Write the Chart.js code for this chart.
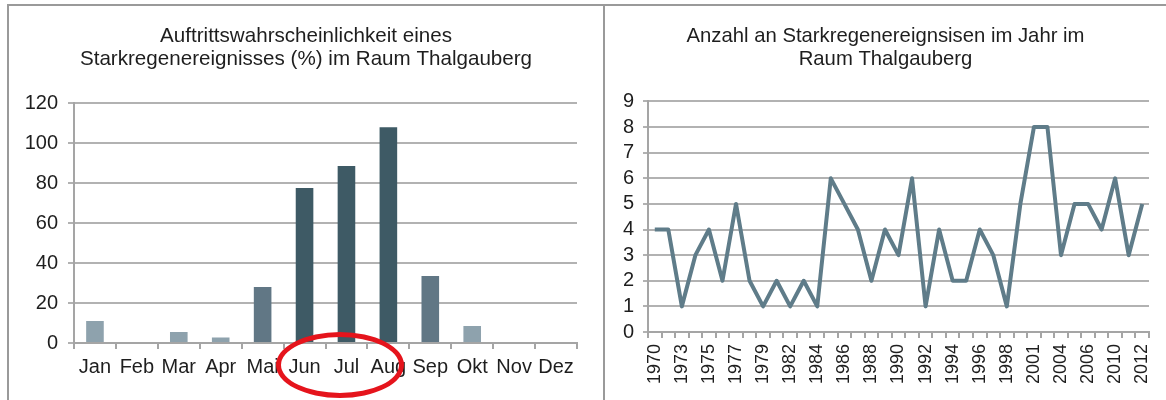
<!DOCTYPE html>
<html><head><meta charset="utf-8">
<script src="https://cdn.jsdelivr.net/npm/chart.js@4.4.1/dist/chart.umd.min.js"></script>
<style>
html,body{margin:0;padding:0;background:#fff;width:1166px;height:400px;overflow:hidden;}
body{position:relative;}
.ln{position:absolute;background:#9a9a9a;}
#w1{position:absolute;left:9px;top:7px;width:594px;height:393px;}
#w2{position:absolute;left:605px;top:7px;width:561px;height:393px;}
#ell{position:absolute;left:276px;top:332px;width:128px;height:66px;box-sizing:border-box;border:5px solid #e5141c;border-radius:50%;}
</style></head>
<body>
<div class="ln" style="left:7px;top:4px;width:1159px;height:2px"></div>
<div class="ln" style="left:7px;top:4px;width:2px;height:396px"></div>
<div class="ln" style="left:603px;top:4px;width:2px;height:396px"></div>
<div id="w1"><canvas id="c1" width="594" height="393"></canvas></div>
<div id="w2"><canvas id="c2" width="561" height="393"></canvas></div>
<div id="ell"></div>
<script>
// ---- data ----
const months = ['Jan','Feb','Mar','Apr','Mai','Jun','Jul','Aug','Sep','Okt','Nov','Dez'];
const probability = [11, 0, 5.5, 2.8, 28, 77.5, 88.5, 108, 33.5, 8.5, 0, 0];
const years = ['1970','1972','1973','1974','1975','1976','1977','1978','1979','1981','1982','1983','1984','1985','1986','1987','1988','1989','1990','1991','1992','1993','1994','1995','1996','1997','1998','2000','2001','2002','2004','2005','2006','2008','2010','2011','2012'];
const events = [4,4,1,3,4,2,5,2,1,2,1,2,1,6,5,4,2,4,3,6,1,4,2,2,4,3,1,5,8,8,3,5,5,4,6,3,5];
const title1 = ['Auftrittswahrscheinlichkeit eines','Starkregenereignisses (%) im Raum Thalgauberg'];
const title2 = ['Anzahl an Starkregenereignsisen im Jahr im','Raum Thalgauberg'];

// ---- styles ----
const LIGHT = '#8ea2ad', MED = '#617785', DARK = '#3e5a65', LINE = '#5f7c89';
const barColors = probability.map(v => v >= 50 ? DARK : (v >= 20 ? MED : LIGHT));
const GRID = '#b2b2b2', AXIS = '#a5a5a5', TXT = '#1e1e1e';
const FONT = "'Liberation Sans', Arial, sans-serif";
Chart.defaults.font.family = FONT;
Chart.defaults.color = TXT;

function spacer(w) {
  return { type: 'linear', position: 'right', display: true,
    grid: { display: false }, border: { display: false }, ticks: { display: false },
    afterFit: s => { s.width = w; } };
}

new Chart(document.getElementById('c1'), {
  type: 'bar',
  data: { labels: months, datasets: [{ data: probability, backgroundColor: barColors, barPercentage: 0.42, categoryPercentage: 1 }] },
  options: {
    responsive: false, animation: false, devicePixelRatio: 1,
    layout: { padding: 0 },
    plugins: {
      legend: { display: false }, tooltip: { enabled: false },
      title: { display: true, text: title1, color: TXT, font: { size: 20.6, weight: 'normal', lineHeight: 1.12 }, padding: { top: 18, bottom: 32 } }
    },
    scales: {
      x: {
        grid: { drawOnChartArea: false, offset: true, tickLength: 6, color: AXIS, lineWidth: 2 },
        border: { display: true, color: AXIS, width: 2 },
        ticks: { font: { size: 20 }, color: TXT, padding: 6, autoSkip: false, maxRotation: 0 },
        afterFit: s => { s.height = 57; s.paddingLeft = 0; s.paddingRight = 0; }
      },
      y: {
        min: 0, max: 120,
        ticks: { stepSize: 20, autoSkip: false, font: { size: 20 }, color: TXT, padding: 10 },
        grid: { color: GRID, lineWidth: 2, tickLength: 6 },
        border: { display: true, color: AXIS, width: 2 },
        afterFit: s => { s.width = 65; }
      },
      pad: spacer(26)
    }
  }
});

new Chart(document.getElementById('c2'), {
  type: 'line',
  data: { labels: years, datasets: [{ data: events, borderColor: LINE, borderWidth: 4, pointRadius: 0, tension: 0, borderJoinStyle: 'round', fill: false }] },
  options: {
    responsive: false, animation: false, devicePixelRatio: 1,
    layout: { padding: 0 },
    plugins: {
      legend: { display: false }, tooltip: { enabled: false },
      title: { display: true, text: title2, color: TXT, font: { size: 20.3, weight: 'normal', lineHeight: 1.12 }, padding: { top: 18, bottom: 31 } }
    },
    scales: {
      x: {
        offset: true,
        grid: { drawOnChartArea: false, offset: true, tickLength: 6, color: AXIS, lineWidth: 2 },
        border: { display: true, color: AXIS, width: 2 },
        ticks: { font: { size: 18 }, color: TXT, padding: 6, autoSkip: false, minRotation: 90, maxRotation: 90,
          callback: function(v, i) { return i % 2 === 0 ? this.getLabelForValue(v) : ''; } },
        afterFit: s => { s.height = 68; s.paddingLeft = 0; s.paddingRight = 0; }
      },
      y: {
        min: 0, max: 9,
        ticks: { stepSize: 1, autoSkip: false, font: { size: 20 }, color: TXT, padding: 9 },
        grid: { color: GRID, lineWidth: 2, tickLength: 5 },
        border: { display: true, color: AXIS, width: 2 },
        afterFit: s => { s.width = 43; }
      },
      pad: spacer(17)
    }
  }
});
</script>
</body></html>
